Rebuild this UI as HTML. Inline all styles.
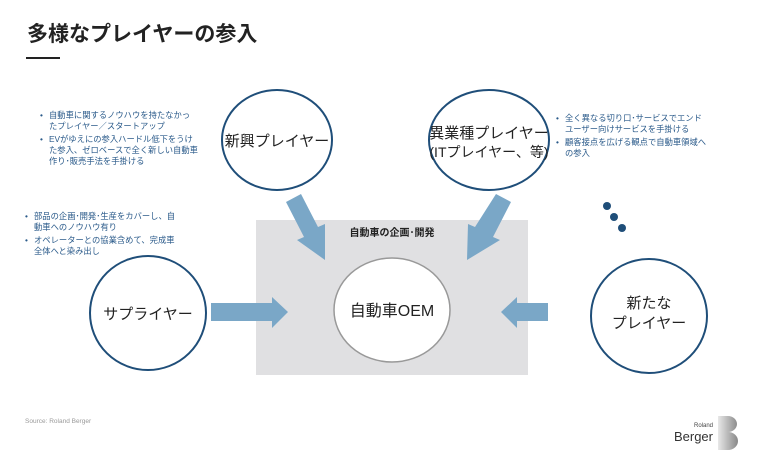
<!DOCTYPE html>
<html><head><meta charset="utf-8"><style>
body{margin:0;background:#fff;}
svg{display:block;font-family:"Liberation Sans","Noto Sans CJK JP",sans-serif;}
</style></head><body>
<svg width="768" height="464" viewBox="0 0 768 464" xmlns="http://www.w3.org/2000/svg">
<rect width="768" height="464" fill="#fff"/>
<text x="27" y="41" font-size="21" font-weight="bold" fill="#222">多様なプレイヤーの参入</text>
<rect x="26" y="57" width="34" height="2" fill="#222"/>

<rect x="256" y="220" width="272" height="155" fill="#e0e0e2"/>
<text x="392" y="236" font-size="10" font-weight="bold" fill="#222" text-anchor="middle">自動車の企画･開発</text>
<ellipse cx="392" cy="310" rx="58" ry="52" fill="#fff" stroke="#999" stroke-width="1.5"/>
<text x="392" y="316" font-size="16" fill="#222" text-anchor="middle">自動車OEM</text>

<g fill="#7aa7c7">
<polygon points="211,303 272,303 272,297 288,312 272,328 272,321 211,321"/>
<polygon points="548,303 517,303 517,297 501,312 517,328 517,321 548,321"/>
<polygon points="286,202 301,194 318,227 325,224 325,260 297,240 304,237"/>
<polygon points="496,194 511,202 493,237 500,240 467,260 468,224 475,227"/>
</g>

<g fill="#fff" stroke="#1f4e79" stroke-width="2">
<ellipse cx="277" cy="140" rx="55" ry="50"/>
<ellipse cx="489" cy="140" rx="60" ry="50"/>
<ellipse cx="148" cy="313" rx="58" ry="57"/>
<ellipse cx="649" cy="316" rx="58" ry="57"/>
</g>
<g font-size="15" fill="#222" text-anchor="middle">
<text x="277" y="146">新興プレイヤー</text>
<text x="489" y="138">異業種プレイヤー</text>
<text x="489" y="157" font-size="14">(ITプレイヤー、等)</text>
<text x="148" y="319">サプライヤー</text>
<text x="649" y="308">新たな</text>
<text x="649" y="328">プレイヤー</text>
</g>

<g fill="#1f4e79">
<circle cx="607" cy="206" r="4"/>
<circle cx="614" cy="217" r="4"/>
<circle cx="622" cy="228" r="4"/>
</g>

<g font-size="8.3" fill="#2a5a8a">
<text x="40" y="118">•</text>
<text x="49" y="118">自動車に関するノウハウを持たなかっ</text>
<text x="49" y="129">たプレイヤー／スタートアップ</text>
<text x="40" y="142">•</text>
<text x="49" y="142">EVがゆえにの参入ハードル低下をうけ</text>
<text x="49" y="153">た参入、ゼロベースで全く新しい自動車</text>
<text x="49" y="164">作り･販売手法を手掛ける</text>

<text x="25" y="219">•</text>
<text x="34" y="219">部品の企画･開発･生産をカバーし、自</text>
<text x="34" y="230">動車へのノウハウ有り</text>
<text x="25" y="243">•</text>
<text x="34" y="243">オペレーターとの協業含めて、完成車</text>
<text x="34" y="254">全体へと染み出し</text>

<text x="556" y="121">•</text>
<text x="565" y="121">全く異なる切り口･サービスでエンド</text>
<text x="565" y="132">ユーザー向けサービスを手掛ける</text>
<text x="556" y="145">•</text>
<text x="565" y="145">顧客接点を広げる観点で自動車領域へ</text>
<text x="565" y="156">の参入</text>
</g>

<text x="25" y="423" font-size="6.5" fill="#999">Source: Roland Berger</text>
<text x="713" y="427" font-size="6" fill="#444" text-anchor="end">Roland</text>
<text x="713" y="441" font-size="13" fill="#333" text-anchor="end">Berger</text>
<defs><linearGradient id="g" x1="0" x2="1"><stop offset="0" stop-color="#e8e8e8"/><stop offset="1" stop-color="#888"/></linearGradient></defs>
<path d="M718,416 h10 a9,8 0 0 1 0,16 a10,9 0 0 1 0,18 h-10 z" fill="url(#g)"/>
</svg>
</body></html>
